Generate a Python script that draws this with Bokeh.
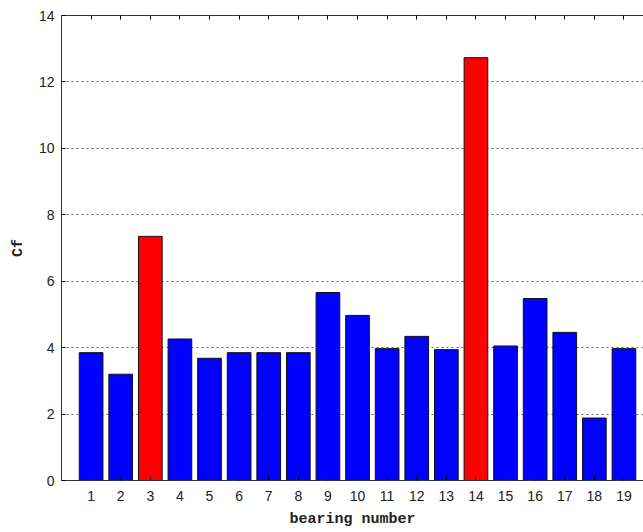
from bokeh.plotting import figure
from bokeh.models import ColumnDataSource, LinearAxis, FixedTicker, Range1d
from bokeh.embed import file_html
from bokeh.resources import INLINE

# Crest factor (Cf) for each bearing
bearings = list(range(1, 20))
cf_values = [3.85, 3.2, 7.35, 4.26, 3.68, 3.85, 3.85, 3.85, 5.66, 4.97,
             3.97, 4.34, 3.94, 12.73, 4.05, 5.48, 4.46, 1.88, 3.97]
faulty = [3, 14]
y_ticks = [0, 2, 4, 6, 8, 10, 12, 14]

colors = ["#ff0000" if b in faulty else "#0000ff" for b in bearings]
source = ColumnDataSource(dict(x=bearings, top=cf_values, color=colors))

p = figure(frame_width=582, frame_height=465, output_backend="svg",
           toolbar_location=None,
           x_range=Range1d(0, 19.66), y_range=Range1d(0, 14),
           min_border_left=61, min_border_right=0, min_border_top=15,
           min_border_bottom=52, x_axis_location="below")
p.outline_line_color = None
p.background_fill_color = "white"
p.border_fill_color = "white"

p.vbar(x="x", top="top", bottom=0, width=0.8, source=source,
       fill_color="color", line_color="#111111", line_width=1)

tick_font = "Liberation Sans"
label_font = "Liberation Mono"

# bottom axis
xa = p.xaxis[0]
xa.ticker = FixedTicker(ticks=bearings)
xa.major_tick_in = 4
xa.major_tick_out = 0
xa.minor_tick_line_color = None
xa.axis_line_color = "#333333"
xa.major_label_text_font = tick_font
xa.major_label_text_font_size = "14px"
xa.major_label_text_color = "#222222"
xa.major_label_standoff = 10
xa.axis_label = "bearing number"
xa.axis_label_text_font = label_font
xa.axis_label_text_font_style = "bold"
xa.axis_label_text_font_size = "15px"
xa.axis_label_text_color = "#222222"
xa.axis_label_standoff = 7

# left axis
ya = p.yaxis[0]
ya.ticker = FixedTicker(ticks=y_ticks)
ya.major_tick_in = 4
ya.major_tick_out = 0
ya.minor_tick_line_color = None
ya.axis_line_color = "#333333"
ya.major_label_text_font = tick_font
ya.major_label_text_font_size = "14px"
ya.major_label_text_color = "#222222"
ya.major_label_standoff = 7
ya.axis_label = "Cf"
ya.axis_label_text_font = label_font
ya.axis_label_text_font_style = "bold"
ya.axis_label_text_font_size = "15px"
ya.axis_label_text_color = "#222222"
ya.axis_label_standoff = 9

# top box edge with inward ticks
top_axis = LinearAxis(ticker=FixedTicker(ticks=bearings), major_tick_in=4,
                      major_tick_out=0, minor_tick_line_color=None,
                      major_label_overrides={b: "" for b in bearings},
                      axis_line_color="#333333")
p.add_layout(top_axis, "above")

p.xgrid.grid_line_color = None
p.ygrid.ticker = FixedTicker(ticks=y_ticks)
p.ygrid.grid_line_color = "#666666"
p.ygrid.grid_line_dash = "2 3"
p.ygrid.grid_line_width = 1

open("out.html", "w").write(file_html(p, INLINE))
